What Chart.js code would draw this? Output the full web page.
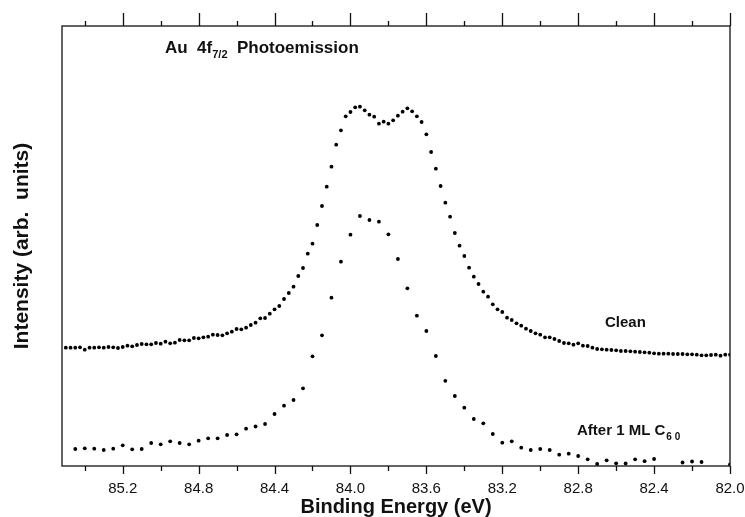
<!DOCTYPE html>
<html>
<head>
<meta charset="utf-8">
<script src="https://cdn.jsdelivr.net/npm/chart.js@4.4.0/dist/chart.umd.min.js"></script>
<style>
	html, body { margin: 0; padding: 0; background: #fff; }
	#chart_div { width: 745px; height: 517px; }
</style>
</head>
<body>
<div id="chart_div"><canvas id="mychart" width="745" height="517"></canvas></div>
<script>
// binding energies (eV) and intensities (arb. units)
var cleanEnergy = [
	85.5, 85.475, 85.45, 85.425, 85.4, 85.375, 85.35, 85.325,
	85.3, 85.275, 85.25, 85.225, 85.2, 85.175, 85.15, 85.125,
	85.1, 85.075, 85.05, 85.025, 85.0, 84.975, 84.95, 84.925,
	84.9, 84.875, 84.85, 84.825, 84.8, 84.775, 84.75, 84.725,
	84.7, 84.675, 84.65, 84.625, 84.6, 84.575, 84.55, 84.525,
	84.5, 84.475, 84.45, 84.425, 84.4, 84.375, 84.35, 84.325,
	84.3, 84.275, 84.25, 84.225, 84.2, 84.175, 84.15, 84.125,
	84.1, 84.075, 84.05, 84.025, 84.0, 83.975, 83.95, 83.925,
	83.9, 83.875, 83.85, 83.825, 83.8, 83.775, 83.75, 83.725,
	83.7, 83.675, 83.65, 83.625, 83.6, 83.575, 83.55, 83.525,
	83.5, 83.475, 83.45, 83.425, 83.4, 83.375, 83.35, 83.325,
	83.3, 83.275, 83.25, 83.225, 83.2, 83.175, 83.15, 83.125,
	83.1, 83.075, 83.05, 83.025, 83.0, 82.975, 82.95, 82.925,
	82.9, 82.875, 82.85, 82.825, 82.8, 82.775, 82.75, 82.725,
	82.7, 82.675, 82.65, 82.625, 82.6, 82.575, 82.55, 82.525,
	82.5, 82.475, 82.45, 82.425, 82.4, 82.375, 82.35, 82.325,
	82.3, 82.275, 82.25, 82.225, 82.2, 82.175, 82.15, 82.125,
	82.1, 82.075, 82.05, 82.025, 82.0
];
var cleanIntensity = [
	118.3, 118.3, 118.3, 118.7, 116.3, 118.3, 118.3, 118.7, 118.3, 119,
	118.7, 118, 119, 120.3, 119.7, 121, 122, 121.7, 121.7, 123,
	122.3, 124.3, 122.7, 123.3, 126, 125.7, 125.7, 128, 127.7, 128.7,
	129.3, 131.3, 131, 130.7, 132.7, 134.3, 137, 136.7, 138.3, 141,
	143.3, 147.7, 148, 152.3, 156.7, 160, 167, 173, 179.3, 190,
	198, 212.3, 222.3, 241, 260, 279.3, 299.3, 321.3, 335.7, 349.7,
	354, 358.7, 359.3, 355.7, 351.3, 349.3, 342.3, 344.3, 342.3, 345.7,
	350.3, 354.3, 357.7, 354.7, 349.7, 344, 331.7, 314, 297.3, 280,
	263.3, 249.3, 233, 220.3, 210, 198.3, 189.3, 182, 174.3, 169.3,
	161.7, 156.7, 154, 148.3, 146, 142.7, 140.3, 137.3, 135, 132.7,
	131.3, 128.7, 128.7, 127, 125, 123, 122.7, 121.3, 122.7, 120.3,
	120, 118.3, 117, 116.7, 116.3, 116, 115.7, 115, 115, 114.7,
	114.3, 114, 113.7, 113.3, 112.7, 112.3, 112.3, 112.3, 112, 112,
	112, 111.7, 111.7, 111.3, 110.7, 110.7, 111, 111.3, 110.3, 111.3, 111.3
];
var c60Energy = [
	85.45, 85.40, 85.35, 85.30, 85.25, 85.20, 85.15, 85.10, 85.05, 85.00,
	84.95, 84.90, 84.85, 84.80, 84.75, 84.70, 84.65, 84.60, 84.55, 84.50,
	84.45, 84.40, 84.35, 84.30, 84.25, 84.20, 84.15, 84.10, 84.05, 84.00,
	83.95, 83.90, 83.85, 83.80, 83.75, 83.70, 83.65, 83.60, 83.55, 83.50,
	83.45, 83.40, 83.35, 83.30, 83.25, 83.20, 83.15, 83.10, 83.05, 83.00,
	82.95, 82.90, 82.85, 82.80, 82.75, 82.70, 82.65, 82.60, 82.55, 82.50,
	82.45, 82.40, 82.25, 82.20, 82.15, 82.00
];
var c60Intensity = [
	17, 17.7, 17.3, 16, 17.3, 20.7, 16.7, 17, 23, 21.7,
	24.7, 23, 21.7, 25.3, 27.7, 27.7, 31, 31.7, 37.3, 39.5,
	42, 52, 60.3, 66, 77.7, 109.7, 130.7, 168.3, 204.3, 231.3,
	250, 246, 244.3, 231.7, 207, 177.7, 150.3, 135, 110, 85.2,
	70, 58.3, 47, 42.7, 32, 23.3, 24.7, 18.3, 16, 17,
	16, 11.3, 12.3, 10, 6.7, 2, 5.7, 2.7, 2.5, 6.7,
	4.8, 7, 3.5, 4.5, 4, 1.5
];
var majorTicks = [85.2, 84.8, 84.4, 84.0, 83.6, 83.2, 82.8, 82.4, 82.0];
var minorTicks = [85.4, 85.0, 84.6, 84.2, 83.8, 83.4, 83.0, 82.6, 82.2];

function toPoints(xs, ys) {
	var pts = [];
	for (var i = 0; i < xs.length; i++) {
		pts.push({ x: xs[i], y: ys[i] });
	}
	return pts;
}

// box, tick marks on top and bottom, and the text labels inside the plot
var framePlugin = {
	id: 'frame',
	afterDraw: function (chart) {
		var ctx = chart.ctx;
		var a = chart.chartArea;
		var xs = chart.scales.x;
		ctx.save();
		ctx.strokeStyle = '#111';
		ctx.lineWidth = 1.3;
		ctx.strokeRect(a.left, a.top, a.right - a.left, a.bottom - a.top);

		ctx.beginPath();
		majorTicks.forEach(function (v) {
			var px = Math.round(xs.getPixelForValue(v)) + 0.5;
			ctx.moveTo(px, a.bottom); ctx.lineTo(px, a.bottom + 8);
			ctx.moveTo(px, a.top); ctx.lineTo(px, a.top - 13);
		});
		minorTicks.forEach(function (v) {
			var px = Math.round(xs.getPixelForValue(v)) + 0.5;
			ctx.moveTo(px, a.bottom); ctx.lineTo(px, a.bottom + 5);
			ctx.moveTo(px, a.top); ctx.lineTo(px, a.top - 5);
		});
		ctx.stroke();

		ctx.fillStyle = '#111';
		ctx.textBaseline = 'alphabetic';
		ctx.textAlign = 'left';

		var x = 165;
		ctx.font = 'bold 17px "Liberation Sans", Arial, sans-serif';
		ctx.fillText('Au  4f', x, 53);
		x += ctx.measureText('Au  4f').width;
		ctx.font = 'bold 11px "Liberation Sans", Arial, sans-serif';
		ctx.fillText('7/2', x, 58);
		x += ctx.measureText('7/2').width;
		ctx.font = 'bold 17px "Liberation Sans", Arial, sans-serif';
		ctx.fillText('  Photoemission', x, 53);

		ctx.font = 'bold 15px "Liberation Sans", Arial, sans-serif';
		ctx.fillText('Clean', 605, 327);

		x = 577;
		ctx.fillText('After 1 ML C', x, 435);
		x += ctx.measureText('After 1 ML C').width;
		ctx.font = 'bold 10px "Liberation Sans", Arial, sans-serif';
		ctx.fillText('6 0', x + 1, 440);
		ctx.restore();
	}
};

function drawChart() {
	new Chart(document.getElementById('mychart'), {
		type: 'scatter',
		plugins: [framePlugin],
		data: {
			datasets: [
				{
					label: 'Clean',
					data: toPoints(cleanEnergy, cleanIntensity),
					backgroundColor: '#000',
					borderWidth: 0,
					pointRadius: 1.9
				},
				{
					label: 'After 1 ML C60',
					data: toPoints(c60Energy, c60Intensity),
					backgroundColor: '#000',
					borderWidth: 0,
					pointRadius: 1.9
				}
			]
		},
		options: {
			responsive: false,
			animation: false,
			devicePixelRatio: 1,
			layout: { autoPadding: false, padding: { top: 26, right: 15, bottom: 0, left: 0 } },
			plugins: {
				legend: { display: false },
				tooltip: { enabled: false }
			},
			scales: {
				x: {
					type: 'linear',
					reverse: true,
					min: 82.0,
					max: 85.52,
					grid: { display: false, drawTicks: false },
					border: { display: false },
					afterBuildTicks: function (scale) {
						scale.ticks = majorTicks.map(function (v) { return { value: v }; });
					},
					afterFit: function (scale) {
						scale.height = 51;
						scale.paddingLeft = 0;
						scale.paddingRight = 0;
					},
					ticks: {
						autoSkip: false,
						maxRotation: 0,
						padding: 14,
						color: '#111',
						font: { family: '"Liberation Sans", Arial, sans-serif', size: 15, lineHeight: 1.2 },
						callback: function (value) { return Number(value).toFixed(1); }
					},
					title: {
						display: true,
						text: 'Binding Energy (eV)',
						color: '#111',
						padding: 0,
						font: { family: '"Liberation Sans", Arial, sans-serif', size: 20, weight: 'bold', lineHeight: 1 }
					}
				},
				y: {
					min: 0,
					max: 440,
					grid: { display: false, drawTicks: false },
					border: { display: false },
					ticks: { display: false },
					afterFit: function (scale) {
						scale.width = 62;
						scale.paddingTop = 0;
						scale.paddingBottom = 0;
					},
					title: {
						display: true,
						text: 'Intensity (arb.  units)',
						color: '#111',
						padding: { top: 12, bottom: 0 },
						font: { family: '"Liberation Sans", Arial, sans-serif', size: 21, weight: 'bold', lineHeight: 1 }
					}
				}
			}
		}
	});
}

drawChart();
</script>
</body>
</html>
